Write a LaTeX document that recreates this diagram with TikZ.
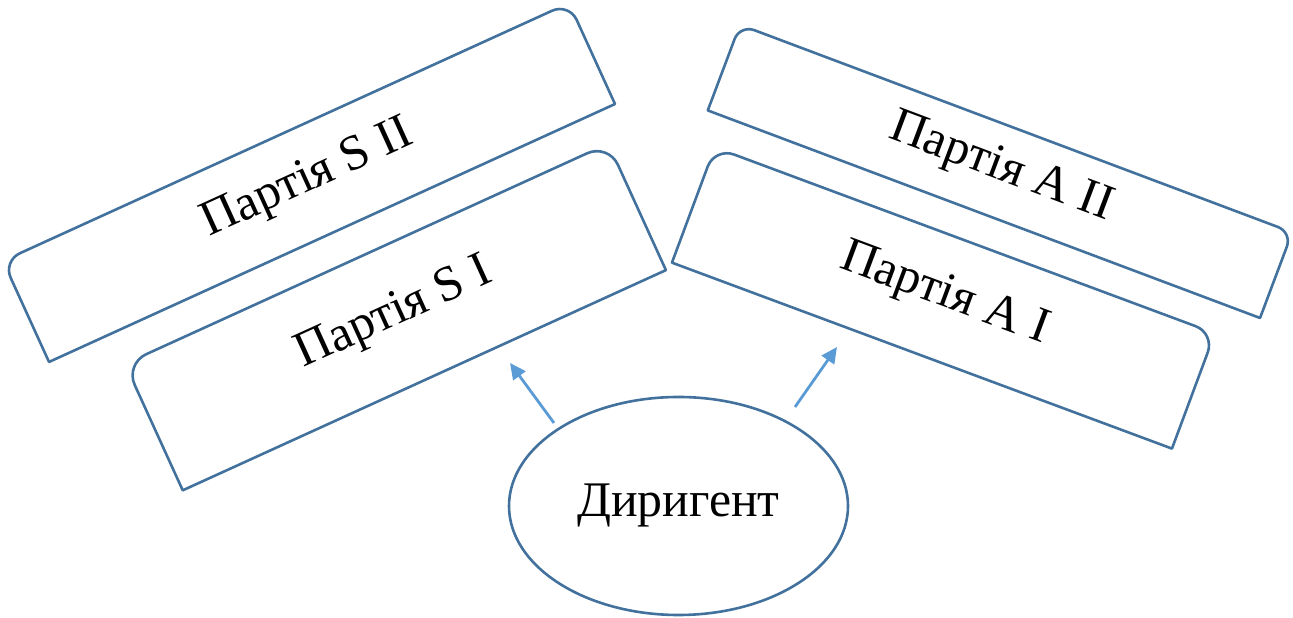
\documentclass[tikz,border=0pt]{standalone}
\usepackage{fontspec}
\setmainfont{Liberation Serif}
\usetikzlibrary{shapes.geometric,arrows.meta}

\definecolor{outlineblue}{HTML}{41719C}
\definecolor{arrowblue}{HTML}{5B9BD5}

\tikzset{
  partline/.style={draw=outlineblue, line width=2.6bp, line join=round},
  partlabel/.style={transform shape, inner sep=0pt, font=\fontsize{50}{60}\selectfont},
  pointer/.style={draw=arrowblue, line width=2.8bp, -{Triangle[length=16bp,width=15bp]}},
}

% A tilted band whose two upper corners are rounded, with its label in the middle.
% #1 name, #2 #3 centre, #4 angle, #5 width, #6 height, #7 label
\newcommand\partbox[7]{%
  \begin{scope}[shift={(#2,#3)},rotate=#4]
    \pgfmathsetmacro\pw{#5/2}%
    \pgfmathsetmacro\ph{#6/2}%
    \pgfmathsetmacro\pr{#6/6}%
    \pgfmathsetmacro\pq{\ph-\pr}%
    \pgfmathsetmacro\pl{-\pw+\pr}%
    \draw[partline] (-\pw,-\ph) -- (\pw,-\ph) -- (\pw,\pq)
      arc[start angle=0,end angle=90,radius=\pr bp] -- (\pl,\ph)
      arc[start angle=90,end angle=180,radius=\pr bp] -- cycle;
    \node[partlabel] (#1) at (0,3) {#7};
  \end{scope}}

\begin{document}
\begin{tikzpicture}[x=1bp,y=1bp]
  \useasboundingbox (0,0) rectangle (1293,618);

  \partbox{s2}{309}{435.5}{24.5}{622}{111}{Партія S II}
  \partbox{s1}{395.5}{301}{24.5}{531}{139}{Партія S I}
  \partbox{a2}{1000}{446.6}{-20.6}{590}{91.5}{Партія A II}
  \partbox{a1}{943.4}{320}{-20.4}{533.5}{123}{Партія A I}

  \node[ellipse, draw=outlineblue, line width=2.6bp, minimum width=339bp,
        minimum height=218bp, inner sep=0pt,
        font=\fontsize{50}{60}\selectfont] (dir) at (678.5,112) {Диригент};

  \coordinate (p1) at (554,195);
  \coordinate (q1) at (510,255);
  \coordinate (p2) at (795,211);
  \coordinate (q2) at (837,271);
  \draw[pointer] (p1) -- (q1);
  \draw[pointer] (p2) -- (q2);
\end{tikzpicture}
\end{document}
